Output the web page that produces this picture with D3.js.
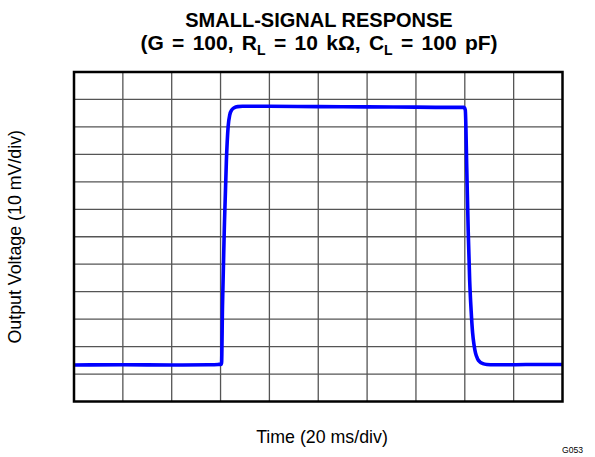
<!DOCTYPE html>
<html>
<head>
<meta charset="utf-8">
<script src="https://cdn.jsdelivr.net/npm/d3@7/dist/d3.min.js"></script>
<style>
  html, body { margin: 0; padding: 0; background: #fff; }
  svg { display: block; font-family: "Liberation Sans", Arial, sans-serif; }
</style>
</head>
<body>
<svg id="chart" width="595" height="457"></svg>
<script>
// Step response trace: time in ms, output in mV
const timeMs = [0, 20, 40, 55, 59, 60.4, 60.8, 61.6, 62.4, 63.1, 63.8, 64.6, 65.6, 67, 69, 72, 80, 100, 120, 140, 155, 159.6, 160.2, 160.8, 161.4, 162.0, 162.6, 163.2, 163.8, 164.4, 165.2, 166.2, 167.4, 169, 172, 180, 190, 200];
const outputMv = [13.3, 13.4, 13.3, 13.4, 13.5, 13.6, 35, 65, 88, 100, 104.5, 106.2, 107.0, 107.4, 107.5, 107.5, 107.5, 107.4, 107.3, 107.2, 107.1, 107.1, 106.2, 85, 62, 44, 33, 25, 20.5, 17.6, 15.6, 14.4, 13.8, 13.5, 13.4, 13.4, 13.5, 13.5];

// Scope grid: 10 horizontal divisions, 12 vertical divisions
const xDivs = d3.range(0, 201, 20);
const yDivs = d3.range(0, 121, 10);

const titleLine1 = "SMALL-SIGNAL RESPONSE";
const xLabel = "Time (20 ms/div)";
const yLabel = "Output Voltage (10 mV/div)";
const figId = "G053";

const svg = d3.select("#chart");
const plotL = 74, plotR = 562.5, plotT = 72, plotB = 401.5;

const x = d3.scaleLinear().domain([0, 200]).range([plotL, plotR]);
const y = d3.scaleLinear().domain([0, 120]).range([plotB, plotT]);

// grid
const grid = svg.append("g");
grid.selectAll("line.v").data(xDivs.slice(1, -1)).join("line")
  .attr("x1", d => x(d)).attr("x2", d => x(d))
  .attr("y1", plotT).attr("y2", plotB)
  .attr("stroke", "#555").attr("stroke-width", 1.3);
grid.selectAll("line.h").data(yDivs.slice(1, -1)).join("line")
  .attr("x1", plotL).attr("x2", plotR)
  .attr("y1", d => y(d)).attr("y2", d => y(d))
  .attr("stroke", "#555").attr("stroke-width", 1.3);

// trace
const pts = timeMs.map((t, i) => [t, outputMv[i]]);
svg.append("path")
  .datum(pts)
  .attr("fill", "none")
  .attr("stroke", "#0000ff")
  .attr("stroke-width", 3.6)
  .attr("stroke-linejoin", "round")
  .attr("d", d3.line().x(d => x(d[0])).y(d => y(d[1])).curve(d3.curveMonotoneX));

// frame
svg.append("rect")
  .attr("x", plotL).attr("y", plotT)
  .attr("width", plotR - plotL).attr("height", plotB - plotT)
  .attr("fill", "none").attr("stroke", "#000").attr("stroke-width", 2.5);

// title
const cx = 319;
svg.append("text").attr("x", cx).attr("y", 27)
  .attr("text-anchor", "middle").attr("font-size", 20).attr("font-weight", "bold")
  .text(titleLine1);
const t2 = svg.append("text").attr("x", cx).attr("y", 50)
  .attr("text-anchor", "middle").attr("font-size", 21).attr("font-weight", "bold")
  .style("word-spacing", "2.5px");
t2.append("tspan").text("(G = 100, R");
t2.append("tspan").attr("font-size", 14).attr("dy", 4.5).text("L");
t2.append("tspan").attr("dy", -4.5).text(" = 10 kΩ, C");
t2.append("tspan").attr("font-size", 14).attr("dy", 4.5).text("L");
t2.append("tspan").attr("dy", -4.5).text(" = 100 pF)");

// axis labels
svg.append("text").attr("x", 322).attr("y", 443)
  .attr("text-anchor", "middle").attr("font-size", 17.8).text(xLabel);
svg.append("text")
  .attr("transform", `translate(21,${(plotT + plotB) / 2}) rotate(-90)`)
  .attr("text-anchor", "middle").attr("font-size", 17.8).text(yLabel);
svg.append("text").attr("x", 583).attr("y", 453)
  .attr("text-anchor", "end").attr("font-size", 8.6).text(figId);
</script>
</body>
</html>
